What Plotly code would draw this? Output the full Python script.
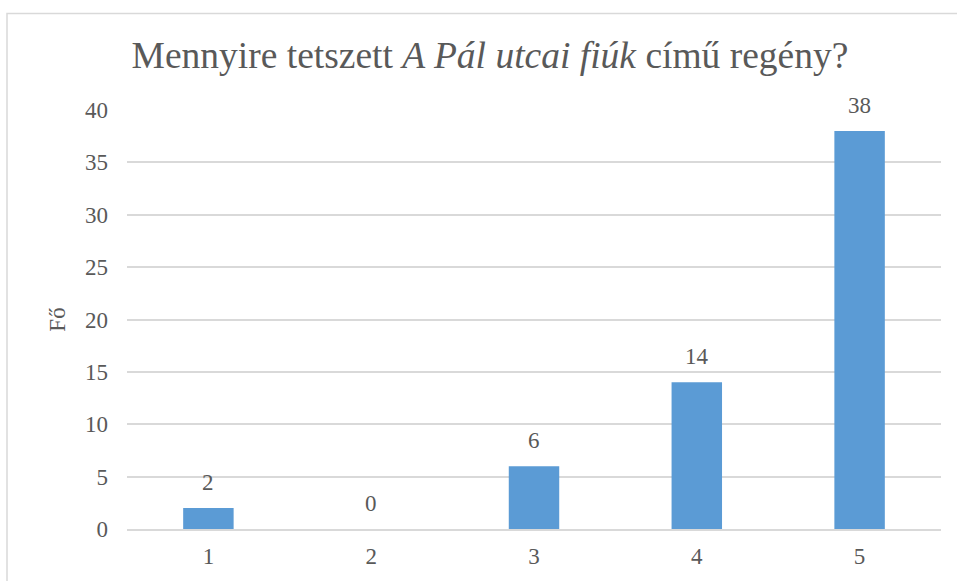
import plotly.graph_objects as go

categories = ["1", "2", "3", "4", "5"]
values = [2, 0, 6, 14, 38]
y_ticks = [0, 5, 10, 15, 20, 25, 30, 35, 40]

title_text = "Mennyire tetszett <i>A Pál utcai fiúk</i> című regény?"
y_title = "Fő"

FONT = "Liberation Serif"
GRAY = "#595959"
FS = 23

fig = go.Figure(
    go.Bar(
        x=categories,
        y=values,
        marker=dict(color="#5B9BD5", line=dict(width=0)),
        width=0.31,
        cliponaxis=False,
        hoverinfo="x+y",
    )
)

for i, v in enumerate(values):
    fig.add_annotation(
        x=i, y=v, xref="x", yref="y", text=str(v), showarrow=False,
        yanchor="bottom", yshift=11,
        font=dict(family=FONT, size=FS, color=GRAY),
    )

W, H = 957, 581
L, R, T, B = 127, 16, 110, 50
pw = W - L - R
ph = H - T - B

def px_to_paper_x(px):
    return (px - L) / pw

def px_to_paper_y(py):
    return (H - B - py) / ph

fig.add_shape(
    type="rect", xref="paper", yref="paper",
    x0=px_to_paper_x(7), x1=px_to_paper_x(985),
    y0=px_to_paper_y(600), y1=px_to_paper_y(13),
    line=dict(color="#d9d9d9", width=1.5), fillcolor="rgba(0,0,0,0)", layer="below",
)

fig.update_layout(
    width=W, height=H,
    margin=dict(l=L, r=R, t=T, b=B, pad=0),
    paper_bgcolor="white", plot_bgcolor="white",
    showlegend=False,
    title=dict(
        text=title_text, x=490 / W, xref="container", xanchor="center",
        y=1 - 55 / H, yref="container", yanchor="middle",
        font=dict(family=FONT, size=37.5, color=GRAY),
    ),
    font=dict(family=FONT, size=FS, color=GRAY),
    bargap=0.69,
)
fig.update_xaxes(
    type="category", range=[-0.5, 4.5],
    showgrid=False, showline=True, linecolor="#d9d9d9", linewidth=1.5,
    ticks="", ticklabelstandoff=6, tickfont=dict(family=FONT, size=FS, color=GRAY),
)
fig.update_yaxes(
    range=[0, 40], tickvals=y_ticks, showgrid=True, gridcolor="#d9d9d9", gridwidth=1.5,
    zeroline=False, showline=False, ticks="", ticklabelstandoff=18,
    tickfont=dict(family=FONT, size=FS, color=GRAY),
    title=dict(text=y_title, font=dict(family=FONT, size=FS, color=GRAY), standoff=12),
)

fig.write_html(
    "out.html",
    config={"displayModeBar": False},
    post_script="document.body.style.margin='0';",
)
